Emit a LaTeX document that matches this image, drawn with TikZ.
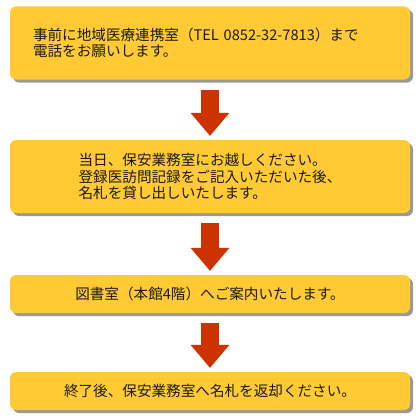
\documentclass[tikz,border=0pt]{standalone}
\usepackage{fontspec}
\setmainfont{Noto Sans CJK JP}
\usepackage{tikz}
\usetikzlibrary{arrows.meta,shadows}
\setlength{\parindent}{0pt}
\definecolor{Box}{HTML}{FFCA33}
\definecolor{Arr}{HTML}{CC3300}
\definecolor{Ink}{HTML}{1A1A1A}
\definecolor{Shade}{HTML}{6E6E6E}

\tikzset{
  stepbox/.style={fill=Box,rounded corners=6pt,minimum width=400pt,
    text=Ink,font=\fontsize{14.6}{16.5}\selectfont,align=left,
    drop shadow={shadow xshift=3pt,shadow yshift=-3pt,fill=Shade,opacity=0.7}},
  flow/.style={Arr,line width=18pt,
    -{Triangle[width=39pt,length=23pt,line width=0pt]},
    shorten <=10pt,shorten >=4pt}
}

\begin{document}
\begin{tikzpicture}[x=1pt,y=-1pt]
  \useasboundingbox (0,0) rectangle (420,420);
  \node[stepbox,minimum height=73pt,text width=354pt,inner xsep=23pt] (visit) at (210,43)
    {事前に地域医療連携室（TEL 0852-32-7813）まで\\電話をお願いします。};
  \node[stepbox,minimum height=73pt] (office) at (210,176.5)
    {当日、保安業務室にお越しください。\\登録医訪問記録をご記入いただいた後、\\名札を貸し出しいたします。};
  \node[stepbox,minimum height=38pt] (library) at (210,294)
    {図書室（本館4階）へご案内いたします。};
  \node[stepbox,minimum height=38pt] (return) at (210,391)
    {終了後、保安業務室へ名札を返却ください。};
  \draw[flow] (visit) -- (office);
  \draw[flow] (office) -- (library);
  \draw[flow] (library) -- (return);
\end{tikzpicture}
\end{document}
